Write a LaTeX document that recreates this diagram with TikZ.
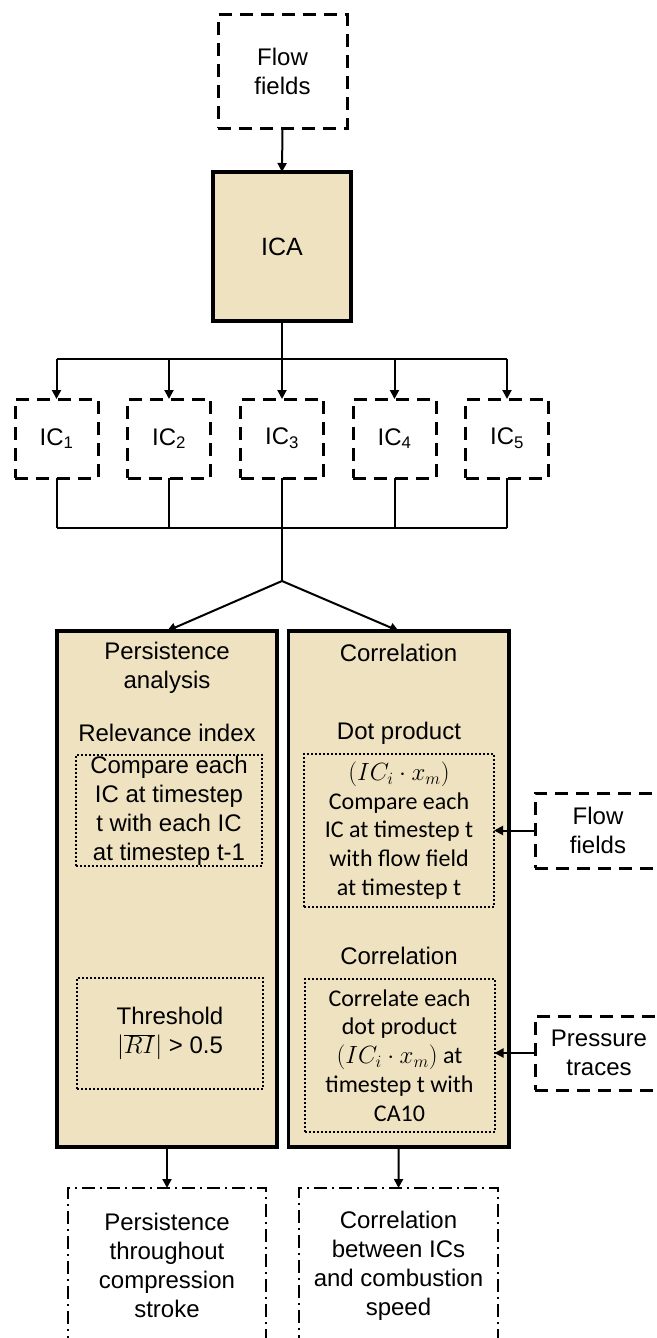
\documentclass[tikz,border=0pt]{standalone}
\usepackage{fontspec}
\setmainfont{Liberation Sans}
\newfontfamily\calfont{Carlito}
\usetikzlibrary{arrows.meta}
\definecolor{boxtan}{RGB}{239,226,192}
\tikzset{
 base/.style={font=\fontsize{24}{29}\selectfont, align=center, inner sep=0pt, outer sep=0pt},
 dashbox/.style={base, draw, line width=3pt, dash pattern=on 13pt off 8pt},
 solidbox/.style={base, draw, fill=boxtan, line width=3.5pt},
 dotbox/.style={base, draw, line width=2pt, dash pattern=on 2pt off 2pt},
 ddbox/.style={base, draw, line width=2pt, dash pattern=on 13pt off 5pt on 2pt off 5pt},
 conn/.style={line width=2pt},
 arr/.style={conn, -{Triangle[width=9pt,length=9pt]}},
 lbl/.style={base},
 cal/.style={base, font=\calfont\fontsize{24}{28.8}\selectfont}
}
\begin{document}
\begin{tikzpicture}[x=1pt,y=-1pt]
\useasboundingbox (0,0) rectangle (656,1338);
\clip (0,0) rectangle (656,1338);
% top
\node[dashbox, minimum width=129pt, minimum height=113pt] (flow) at (282.5,71.5) {Flow\\fields};
\node[solidbox, minimum width=138pt, minimum height=149pt] (ica) at (282,246.5) {\fontsize{25}{29}\selectfont ICA};
% ICs
\foreach \i/\x in {1/56.5,2/169,3/282,4/394.5,5/507}{
  \node[dashbox, minimum width=83pt, minimum height=79pt] (ic\i) at (\x,438.5) {IC\textsubscript{\i}};
}
\coordinate (br) at (282,359);
\coordinate (col) at (282,528);
\coordinate (apex) at (282,581);
% big boxes
\node[solidbox, minimum width=220pt, minimum height=516pt] (pers) at (167,889) {};
\node[solidbox, minimum width=220.5pt, minimum height=516pt] (corr) at (398.75,889) {};
% texts in persistence box
\node[lbl] (ph) at (167,667.5) {Persistence\\analysis};
\node[lbl] (ri) at (167,733) {Relevance index};
\node[dotbox, minimum width=186pt, minimum height=111pt] (cmp) at (169,810.5) {Compare each\\IC at timestep\\t with each IC\\at timestep t-1};
\node[dotbox, minimum width=186pt, minimum height=111pt] (thr) at (170,1033.5) {Threshold\\$|\overline{RI}|$ > 0.5};
% texts in correlation box
\node[lbl] (ch) at (398.5,653) {Correlation};
\node[lbl] (dp) at (399,733) {Dot product};
\node[dotbox, cal, minimum width=190pt, minimum height=153pt] (dot) at (399,830.5) {$(IC_i\cdot x_m)$\\Compare each\\IC at timestep t\\with flow field\\at timestep t};
\node[lbl] (ch2) at (399,956) {Correlation};
\node[dotbox, cal, minimum width=190pt, minimum height=153pt] (low) at (399.5,1055.5) {Correlate each\\dot product\\$(IC_i\cdot x_m)$ at\\timestep t with\\CA10};
% side inputs
\node[dashbox, minimum width=126pt, minimum height=75pt] (rflow) at (598,830.5) {Flow\\fields};
\node[dashbox, minimum width=128pt, minimum height=74pt] (pres) at (599,1053) {Pressure\\traces};
% outputs
\node[ddbox, minimum width=198.5pt, minimum height=155pt] (out1) at (167,1265.5) {Persistence\\throughout\\compression\\stroke};
\node[ddbox, minimum width=199pt, minimum height=155pt] (out2) at (398.5,1265.5) {Correlation\\between ICs\\and combustion\\speed};
% connectors
\draw[arr] (flow.south) -- (ica.north);
\draw[conn] (ica.south) -- (br);
\draw[conn] (ic1.north |- br) -- (ic5.north |- br);
\foreach \i in {1,2,3,4,5}{
  \draw[arr] (ic\i.north |- br) -- (ic\i.north);
  \draw[conn] (ic\i.south) -- (ic\i.south |- col);
}
\draw[conn] (ic1.south |- col) -- (ic5.south |- col);
\draw[conn] (col) -- (apex);
\draw[arr] (apex) -- (pers.north);
\draw[arr] (apex) -- (corr.north);
\draw[arr] (rflow.west) -- (dot.east);
\draw[arr] (pres.west) -- (pres.west -| low.east);
\draw[arr] (pers.south) -- (out1.north);
\draw[arr] (corr.south) -- (out2.north);
\end{tikzpicture}
\end{document}
